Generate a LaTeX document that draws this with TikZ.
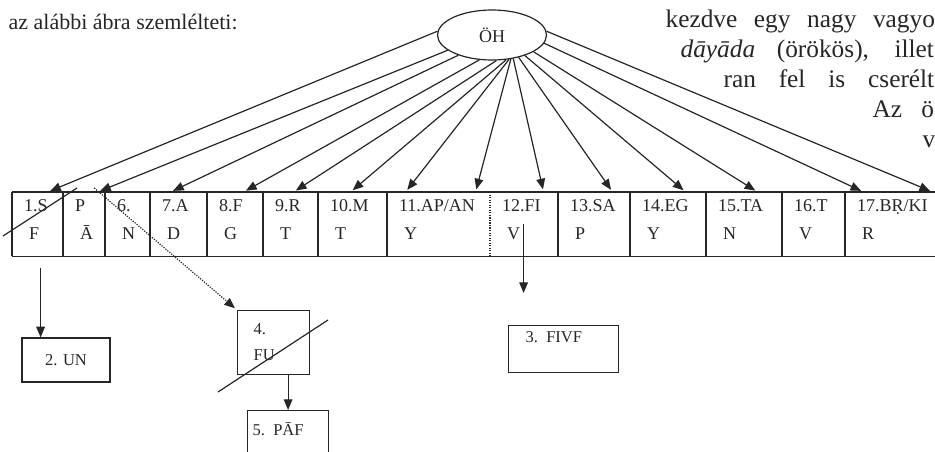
\documentclass[tikz,border=0pt]{standalone}
\usepackage{fontspec}
\setmainfont{Liberation Serif}
\usetikzlibrary{arrows.meta,shapes.geometric}
\tikzset{
  arr/.style={-{Triangle[length=8pt,width=6.5pt]},shorten >=2pt},
  cell/.style={anchor=north west,minimum height=47.25pt,inner sep=0pt},
  upper/.style={anchor=base west,shift={(7,20)},font=\fontsize{13.5}{16}\selectfont},
  lower/.style={anchor=base west,shift={(12,48)},font=\fontsize{13.5}{16}\selectfont},
  box/.style={draw,inner sep=0pt,font=\fontsize{12.4}{15}\selectfont},
  prose/.style={anchor=base west,inner sep=0pt,font=\fontsize{19}{22}\selectfont}
}
\begin{document}
\begin{tikzpicture}[x=0.75pt,y=-0.75pt,line width=0.9pt,color=black!85]
\path[use as bounding box,clip] (0,0) rectangle (935,452);
\node[prose,font=\fontsize{16.5}{19}\selectfont] (txa) at (8,30) {az alábbi ábra szemlélteti:};
\node[prose] (txb) at (665,28) {\makebox[202pt][s]{kezdve egy nagy vagyo}};
\node[prose] (txc) at (680,58) {\makebox[190pt][s]{\textit{dāyāda} (örökös), illet}};
\node[prose] (txd) at (723,88) {\makebox[158pt][s]{ran fel is cserélt}};
\node[prose] (txe) at (872,118) {\makebox[46pt][s]{Az ö}};
\node[prose] (txf) at (922,148) {v};
\node[ellipse,draw,minimum width=81.75pt,minimum height=37.5pt,inner sep=0pt,font=\fontsize{13.5}{16}\selectfont] (oh) at (492,35) {ÖH};
\foreach \i/\x/\w/\a/\b in {1/12/38.25/1.S/F,2/63/31.5/P/Ā,3/105/33.75/6./N,4/150/42.75/7.A/D,5/207/42/8.F/G,6/263/41.25/9.R/T,7/318/51.75/10.M/T,8/387/77.25/{11.AP/AN}/Y,9/490/51/12.FI/V,10/558/54/13.SA/P,11/630/57/14.EG/Y,12/706/57/15.TA/N,13/782/47.25/16.T/V,14/845/75/{17.BṚ/KI}/R}{
  \node[cell,minimum width=\w pt] (c\i) at (\x,192) {};
  \node[upper] at (c\i.north west) {\a};
  \node[lower] at (c\i.north west) {\b};
}
\draw (c1.north west) -- (c14.north east) (c1.south west) -- (c14.south east) (c1.north west) -- (c1.south west);
\foreach \i in {2,3,4,5,6,7,8,10,11,12,13,14} \draw (c\i.north west) -- (c\i.south west);
\draw[densely dotted] (c9.north west) -- (c9.south west);
\draw[arr] (oh.176) -- ([shift={(9.5,0)}]c1.north);
\draw[arr] (oh.199) -- ([shift={(13,0)}]c2.north);
\draw[arr] (oh.211) -- ([shift={(-8.5,0)}]c4.north);
\draw[arr] (oh.243) -- ([shift={(8,0)}]c5.north);
\draw[arr] (oh.280) -- ([shift={(2.5,0)}]c6.north);
\draw[arr] (oh.300) -- ([shift={(-2.5,0)}]c7.north);
\draw[arr] (oh.305) -- ([shift={(-33.5,0)}]c8.north);
\draw[arr] (oh.308) -- ([shift={(36.5,0)}]c8.north);
\draw[arr] (oh.312) -- ([shift={(19,0)}]c9.north);
\draw[arr] (oh.320) -- ([shift={(18,0)}]c10.north);
\draw[arr] (oh.328) -- ([shift={(17,0)}]c11.north);
\draw[arr] (oh.338) -- ([shift={(13,0)}]c12.north);
\draw[arr] (oh.351) -- ([shift={(-32,0)}]c14.north);
\draw[arr] (oh.4) -- ([shift={(37,0)}]c14.north);
\draw (3,236) -- (77,188);
\node[box,minimum width=66pt,minimum height=33pt] (un) at (66,360) {2. UN};
\node[box,anchor=north west,minimum width=54pt,minimum height=48pt,text width=30pt,inner xsep=12pt,align=left,font=\fontsize{12.4}{19.5}\selectfont] (fu) at (237,310) {4.\\FU};
\node[box,anchor=north west,minimum width=60.75pt,text width=53.25pt,inner xsep=3.75pt,align=left,text height=18.75pt,text depth=26.25pt] (paf) at (247,410) {5. PĀF};
\node[box,anchor=north west,minimum width=82.5pt,text width=57pt,inner xsep=12.75pt,align=left,text height=12.75pt,text depth=22.5pt] (fivf) at (508,325) {3. FIVF};
\coordinate (s1) at ([shift={(2.5,12)}]c1.south);
\draw[arr,shorten >=0pt] (s1) -- (s1 |- un.north);
\coordinate (s9) at ([shift={(-1,32)}]c9.north);
\draw[arr,shorten >=0pt] (s9) -- ++(0,69);
\draw[arr,densely dotted] ([shift={(-12,-4)}]c2.north east) -- (fu.north west);
\draw[arr,shorten >=0pt] (fu.south -| paf.north) -- (paf.north);
\draw (218,392) -- (328,320);
\end{tikzpicture}
\end{document}
